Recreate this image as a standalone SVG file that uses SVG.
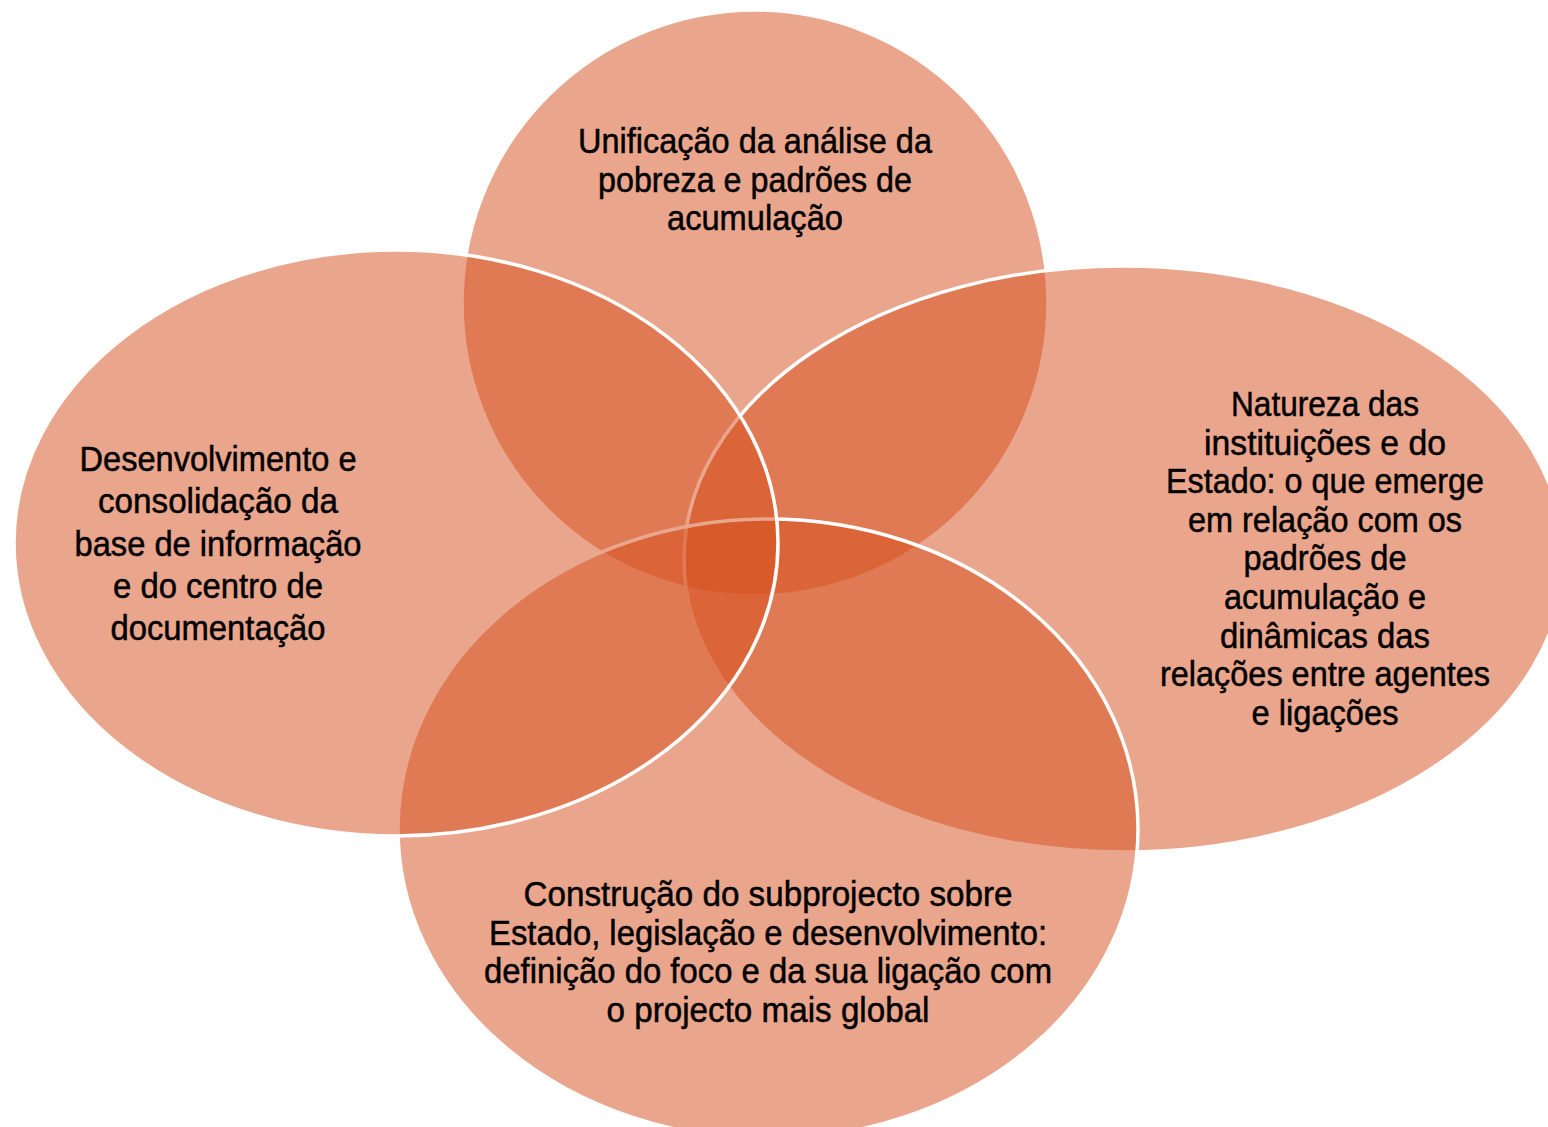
<svg xmlns="http://www.w3.org/2000/svg" width="1548" height="1127" viewBox="0 0 1548 1127">
<style>
.shape{fill:#D64E1C;fill-opacity:0.5;stroke:#FFFFFF;stroke-width:3.5}
.lbl{font-family:"Liberation Sans",Arial,sans-serif;font-size:35px;fill:#000000;stroke:#000000;stroke-width:0.5;text-anchor:middle}
</style>
<rect width="1548" height="1127" fill="#FFFFFF"/>
<g id="node-top">
<ellipse class="shape" cx="755" cy="303" rx="293" ry="293"/>
</g>
<g id="node-right">
<ellipse class="shape" cx="1124" cy="559" rx="440" ry="293"/>
</g>
<g id="node-bottom">
<ellipse class="shape" cx="768" cy="829" rx="370" ry="310"/>
</g>
<g id="node-left">
<ellipse class="shape" cx="396" cy="543" rx="382" ry="293"/>
</g>
<g id="connectors"></g>
<g id="labels">
<g id="label-top">
<text class="lbl" x="755" y="153" textLength="354" lengthAdjust="spacingAndGlyphs">Unificação da análise da</text>
<text class="lbl" x="755" y="192" textLength="314" lengthAdjust="spacingAndGlyphs">pobreza e padrões de</text>
<text class="lbl" x="755" y="230" textLength="176" lengthAdjust="spacingAndGlyphs">acumulação</text>
</g>
<g id="label-left">
<text class="lbl" x="218" y="471" textLength="277" lengthAdjust="spacingAndGlyphs">Desenvolvimento e</text>
<text class="lbl" x="218" y="513" textLength="240" lengthAdjust="spacingAndGlyphs">consolidação da</text>
<text class="lbl" x="218" y="556" textLength="287" lengthAdjust="spacingAndGlyphs">base de informação</text>
<text class="lbl" x="218" y="598" textLength="210" lengthAdjust="spacingAndGlyphs">e do centro de</text>
<text class="lbl" x="218" y="640" textLength="215" lengthAdjust="spacingAndGlyphs">documentação</text>
</g>
<g id="label-right">
<text class="lbl" x="1325" y="416" textLength="188" lengthAdjust="spacingAndGlyphs">Natureza das</text>
<text class="lbl" x="1325" y="454.6" textLength="242" lengthAdjust="spacingAndGlyphs">instituições e do</text>
<text class="lbl" x="1325" y="493.2" textLength="318" lengthAdjust="spacingAndGlyphs">Estado: o que emerge</text>
<text class="lbl" x="1325" y="531.8" textLength="274" lengthAdjust="spacingAndGlyphs">em relação com os</text>
<text class="lbl" x="1325" y="570.4" textLength="163" lengthAdjust="spacingAndGlyphs">padrões de</text>
<text class="lbl" x="1325" y="609" textLength="202" lengthAdjust="spacingAndGlyphs">acumulação e</text>
<text class="lbl" x="1325" y="647.6" textLength="210" lengthAdjust="spacingAndGlyphs">dinâmicas das</text>
<text class="lbl" x="1325" y="686.2" textLength="330" lengthAdjust="spacingAndGlyphs">relações entre agentes</text>
<text class="lbl" x="1325" y="724.8" textLength="147" lengthAdjust="spacingAndGlyphs">e ligações</text>
</g>
<g id="label-bottom">
<text class="lbl" x="768" y="906" textLength="489" lengthAdjust="spacingAndGlyphs">Construção do subprojecto sobre</text>
<text class="lbl" x="768" y="944.5" textLength="558" lengthAdjust="spacingAndGlyphs">Estado, legislação e desenvolvimento:</text>
<text class="lbl" x="768" y="983" textLength="568" lengthAdjust="spacingAndGlyphs">definição do foco e da sua ligação com</text>
<text class="lbl" x="768" y="1021.5" textLength="323" lengthAdjust="spacingAndGlyphs">o projecto mais global</text>
</g>
</g>
</svg>
